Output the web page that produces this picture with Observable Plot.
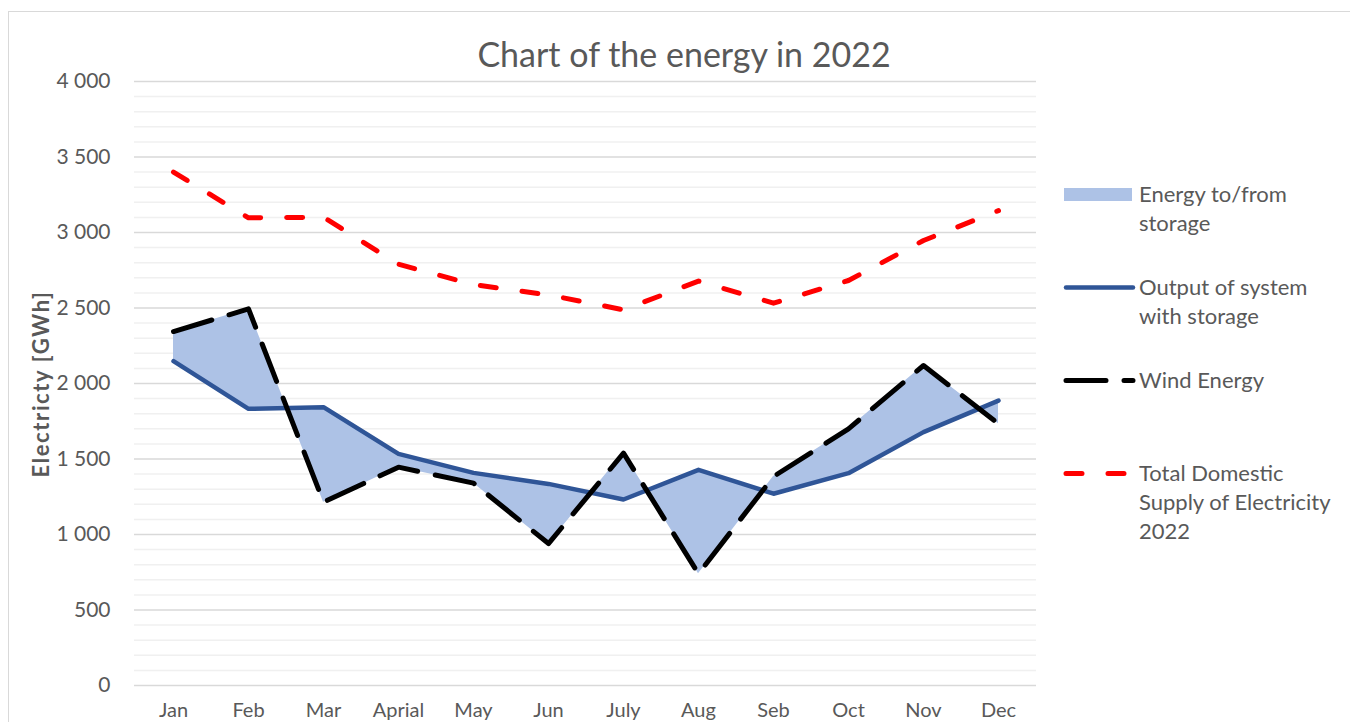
<!DOCTYPE html>
<html>
<head>
<meta charset="utf-8">
<script src="https://cdn.jsdelivr.net/npm/d3@7"></script>
<script src="https://cdn.jsdelivr.net/npm/@observablehq/plot@0.6"></script>
<style>
  html, body { margin: 0; padding: 0; overflow: hidden; background: #fff; width: 1350px; height: 722px; }
  #frame { position: absolute; left: 8px; top: 11px; width: 1400px; height: 800px; border-left: 1.5px solid #d9d9d9; border-top: 1.5px solid #d9d9d9; }
  #chart { position: absolute; left: 0; top: 0; }
  #chart svg { overflow: visible; }
  #title { position: absolute; left: 0; width: 1368px; top: 37px; text-align: center; font-family: Lato, sans-serif; font-size: 34px; line-height: 34px; color: #595959; }
  #ytitle { position: absolute; left: 40px; top: 384px; transform: translate(-50%, -50%) rotate(-90deg); font-family: Lato, sans-serif; font-weight: bold; font-size: 22px; letter-spacing: 1.6px; color: #595959; white-space: nowrap; }
  .leg { position: absolute; left: 1063px; font-family: Lato, sans-serif; font-size: 22px; line-height: 29px; color: #595959; }
  .leg svg { position: absolute; left: 0; }
  .leg .t { position: absolute; left: 76px; white-space: nowrap; }
</style>
</head>
<body>
<div id="frame"></div>
<div id="chart"></div>
<div id="title">Chart of the energy in 2022</div>
<div id="ytitle">Electricty [GWh]</div>
<div id="legend"></div>
<script>
// ---- data ----
const months = ["Jan", "Feb", "Mar", "Aprial", "May", "Jun", "July", "Aug", "Seb", "Oct", "Nov", "Dec"];
const windEnergy   = [2344, 2494, 1214, 1446, 1340, 940, 1539, 740, 1384, 1700, 2119, 1733];
const systemOutput = [2148, 1832, 1843, 1534, 1408, 1335, 1232, 1428, 1270, 1406, 1678, 1887];
const totalSupply  = [3400, 3097, 3101, 2790, 2655, 2587, 2488, 2678, 2532, 2682, 2947, 3145];
const yTicks = [0, 500, 1000, 1500, 2000, 2500, 3000, 3500, 4000];
const seriesNames = ["Energy to/from storage", "Output of system with storage", "Wind Energy", "Total Domestic Supply of Electricity 2022"];

const data = months.map((m, i) => ({month: m, wind: windEnergy[i], output: systemOutput[i], total: totalSupply[i]}));
const minorTicks = d3.range(0, 4001, 100).filter(v => v % 500 !== 0);
const fmt = d => d3.format(",")(d).replace(/,/g, " ");

const colors = {area: "#adc2e6", output: "#2f5597", wind: "#000000", total: "#ff0000"};
const dashWind = "40,18";
const dashTotal = "16,26";

const plot = Plot.plot({
  width: 1350,
  height: 722,
  marginLeft: 134,
  marginRight: 314,
  marginTop: 81,
  marginBottom: 37,
  style: {fontFamily: "Lato, sans-serif", fontSize: "21px", color: "#595959", background: "transparent", overflow: "visible"},
  x: {type: "point", domain: months, padding: 0.5, label: null, tickSize: 0, tickPadding: 17},
  y: {domain: [0, 4000], ticks: yTicks, tickFormat: fmt, label: null, tickSize: 0, tickPadding: 24},
  marks: [
    Plot.ruleY(minorTicks, {stroke: "#f0f0f0", strokeWidth: 1.5}),
    Plot.ruleY(yTicks, {stroke: "#d9d9d9", strokeWidth: 1.5}),
    Plot.areaY(data, {x: "month", y1: "output", y2: "wind", fill: colors.area}),
    Plot.lineY(data, {x: "month", y: "output", stroke: colors.output, strokeWidth: 4.5}),
    Plot.lineY(data, {x: "month", y: "wind", stroke: colors.wind, strokeWidth: 5, strokeDasharray: dashWind, strokeLinecap: "round"}),
    Plot.lineY(data, {x: "month", y: "total", stroke: colors.total, strokeWidth: 5, strokeDasharray: dashTotal, strokeLinecap: "round"})
  ]
});
document.getElementById("chart").appendChild(plot);
// x tick labels slightly smaller so they fit above the bottom edge
plot.querySelectorAll("g[aria-label='x-axis tick label'] text, g[aria-label='x-axis'] text").forEach(t => t.setAttribute("font-size", "20"));

// ---- legend ----
const legendItems = [
  {lines: ["Energy to/from", "storage"], top: 179, kind: "area"},
  {lines: ["Output of system", "with storage"], top: 272, kind: "output"},
  {lines: ["Wind Energy"], top: 365, kind: "wind"},
  {lines: ["Total Domestic", "Supply of Electricity", "2022"], top: 458, kind: "total"}
];
const legend = document.getElementById("legend");
legendItems.forEach(item => {
  const div = document.createElement("div");
  div.className = "leg";
  div.style.top = item.top + "px";
  let sw;
  if (item.kind === "area") {
    sw = `<svg width="72" height="29" style="top:1px"><rect x="1" y="8" width="68" height="13" fill="${colors.area}"/></svg>`;
  } else {
    const dash = item.kind === "wind" ? dashWind : item.kind === "total" ? dashTotal : null;
    sw = `<svg width="80" height="29" style="top:1px"><line x1="3" x2="70" y1="14.5" y2="14.5" stroke="${colors[item.kind]}" stroke-width="${item.kind === "output" ? 4.5 : 5}" stroke-linecap="round" ${dash ? `stroke-dasharray="${dash}"` : ""}/></svg>`;
  }
  div.innerHTML = sw + `<div class="t">${item.lines.join("<br>")}</div>`;
  legend.appendChild(div);
});
</script>
</body>
</html>
